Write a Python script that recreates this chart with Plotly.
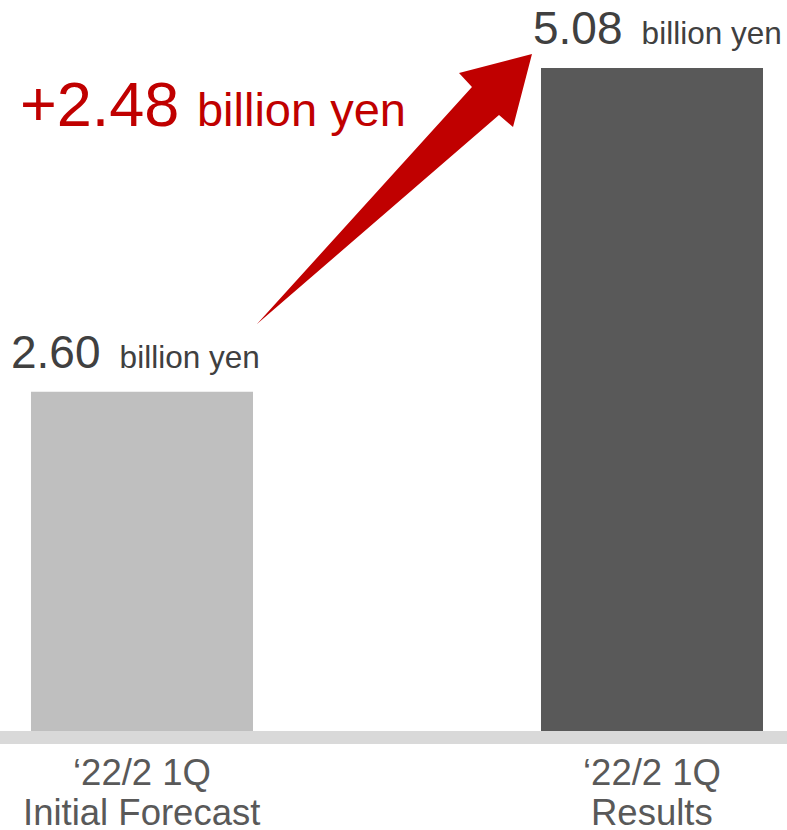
import plotly.graph_objects as go

# Operating profit, first quarter of FY2022/2 (billion yen)
categories = ["Initial Forecast", "Results"]
values = [2.60, 5.08]
tick_line1 = ["\u201822/2 1Q", "\u201822/2 1Q"]
tick_line2 = ["Initial Forecast", "Results"]
bar_colors = ["#bfbfbf", "#595959"]

FONT = "Arial, 'Liberation Sans', sans-serif"
RED = "#c00000"

W, H = 787, 830
x_pos = list(range(len(categories)))

# axis ranges chosen so the plotting area fills the page
x_range = [-0.2784, 1.2647]
y_range = [-0.759, 5.602]

fig = go.Figure()
fig.add_trace(go.Bar(
    x=x_pos, y=values, width=0.4353,
    marker=dict(color=bar_colors, line=dict(width=0)),
    hoverinfo="skip",
))

# value labels above each bar
label_xshift = [-6, 5]
for xi, v, dx in zip(x_pos, values, label_xshift):
    fig.add_annotation(
        x=xi, y=v, xref="x", yref="y",
        text=f"{v:.2f} <span style='font-size:31.5px'>\u2009billion yen</span>",
        showarrow=False, xanchor="center", yanchor="bottom",
        xshift=dx, yshift=12,
        font=dict(family=FONT, size=46, color="#404040"),
    )

# two-line category labels below the baseline band
for xi, l1, l2 in zip(x_pos, tick_line1, tick_line2):
    fig.add_annotation(x=xi, y=-0.318, xref="x", yref="y", text=l1,
                       showarrow=False, xanchor="center", yanchor="middle",
                       font=dict(family=FONT, size=36.5, color="#595959"))
    fig.add_annotation(x=xi, y=-0.628, xref="x", yref="y", text=l2,
                       showarrow=False, xanchor="center", yanchor="middle",
                       font=dict(family=FONT, size=36.5, color="#595959"))

# baseline band
fig.add_shape(type="rect", xref="paper", yref="y", x0=0, x1=1, y0=-0.0996, y1=0,
              fillcolor="#d9d9d9", line=dict(width=0), layer="below")

# tapered arrow from forecast label toward the result bar
diff = values[1] - values[0]
tail = (x_pos[0] + 0.2255, values[0] + 0.519)
tip = (x_pos[1] - 0.2353, values[1] + 0.108)
pts = [
    tail,
    (x_pos[1] - 0.300, values[1] - 0.360),   # shaft, lower side
    (x_pos[1] - 0.2725, values[1] - 0.452),  # barb, lower
    tip,
    (x_pos[1] - 0.3784, values[1] - 0.038),  # barb, upper
    (x_pos[1] - 0.353, values[1] - 0.145),   # shaft, upper side
]
path = "M " + " L ".join(f"{px},{py}" for px, py in pts) + " Z"
fig.add_shape(type="path", xref="x", yref="y", path=path,
              fillcolor=RED, line=dict(width=0))

fig.add_annotation(
    x=18 / W, y=1 - 104 / H, xref="paper", yref="paper",
    text=f"+{diff:.2f} <span style='font-size:47px'>billion yen</span>",
    showarrow=False, xanchor="left", yanchor="middle",
    font=dict(family=FONT, size=63, color=RED),
)

fig.update_layout(
    width=W, height=H,
    margin=dict(l=0, r=0, t=0, b=0),
    paper_bgcolor="white", plot_bgcolor="white",
    showlegend=False,
    xaxis=dict(range=x_range, visible=False, fixedrange=True),
    yaxis=dict(range=y_range, visible=False, fixedrange=True),
)

fig.write_html("out.html")
